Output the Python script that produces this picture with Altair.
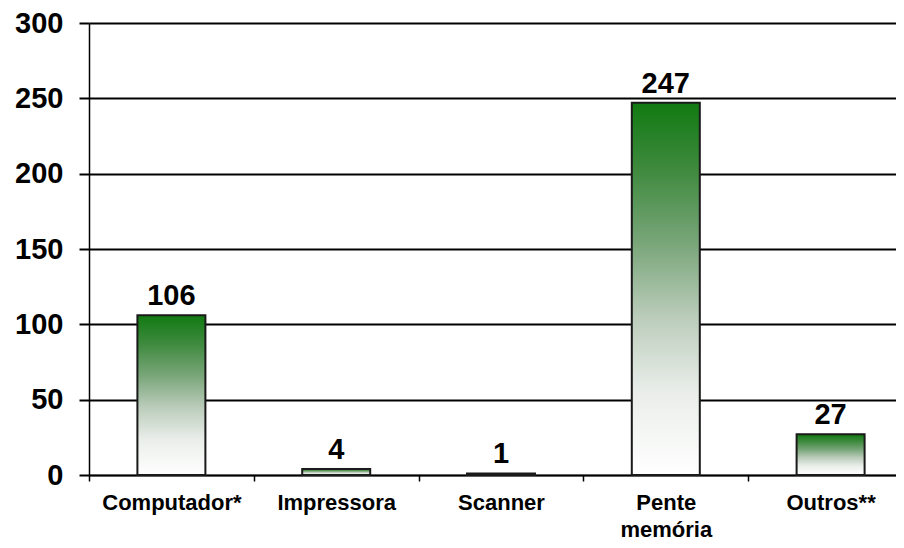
import altair as alt
import pandas as pd

categories = ["Computador*", "Impressora", "Scanner", "Pente memória", "Outros**"]
values = [106, 4, 1, 247, 27]

df = pd.DataFrame({"cat": categories, "val": values})

gradient = alt.Gradient(
    gradient="linear",
    stops=[
        alt.GradientStop(color="#117a11", offset=0),
        alt.GradientStop(color="#3f8a3f", offset=0.18),
        alt.GradientStop(color="#7aa67a", offset=0.38),
        alt.GradientStop(color="#bccdbc", offset=0.58),
        alt.GradientStop(color="#eaeeea", offset=0.78),
        alt.GradientStop(color="#ffffff", offset=1),
    ],
    x1=0, x2=0, y1=0, y2=1,
)

FONT = "Liberation Sans"

x = alt.X(
    "cat:N",
    sort=categories,
    title=None,
    scale=alt.Scale(paddingInner=0, paddingOuter=0),
    axis=alt.Axis(
        labelAngle=0,
        labelFont=FONT,
        labelFontSize=22,
        labelFontWeight="bold",
        labelColor="#000000",
        labelPadding=11,
        labelLineHeight=27,
        labelExpr="split(datum.label, ' ')",
        tickBand="extent",
        tickSize=6,
        tickColor="#000000",
        tickWidth=1.5,
        domainColor="#000000",
        domainWidth=1.5,
        grid=False,
        labelLimit=300,
    ),
)

y = alt.Y(
    "val:Q",
    title=None,
    scale=alt.Scale(domain=[0, 300], nice=False),
    axis=alt.Axis(
        values=[0, 50, 100, 150, 200, 250, 300],
        labelFont=FONT,
        labelFontSize=29,
        labelFontWeight="bold",
        labelColor="#000000",
        labelPadding=16,
        tickSize=10,
        tickColor="#000000",
        tickWidth=2,
        domainColor="#000000",
        domainWidth=1.5,
        gridColor="#000000",
        gridWidth=2,
        gridOpacity=1,
    ),
)

bars = alt.Chart(df).mark_bar(
    size=68, fill=gradient, stroke="#1a1a1a", strokeWidth=2
).encode(x=x, y=y)

labels = alt.Chart(df).mark_text(
    font=FONT, fontSize=29, fontWeight="bold", color="#000000",
    baseline="alphabetic", dy=-10
).encode(x=alt.X("cat:N", sort=categories), y="val:Q", text="val:Q")

chart = alt.layer(bars, labels).properties(
    width=824,
    height=452,
    autosize=alt.AutoSizeParams(type="none"),
    padding={"left": 81, "top": 15, "right": -17, "bottom": 73},
).configure_view(stroke=None).configure(background="#ffffff")

chart.save("out.html", embed_options={"renderer": "svg", "actions": False})
